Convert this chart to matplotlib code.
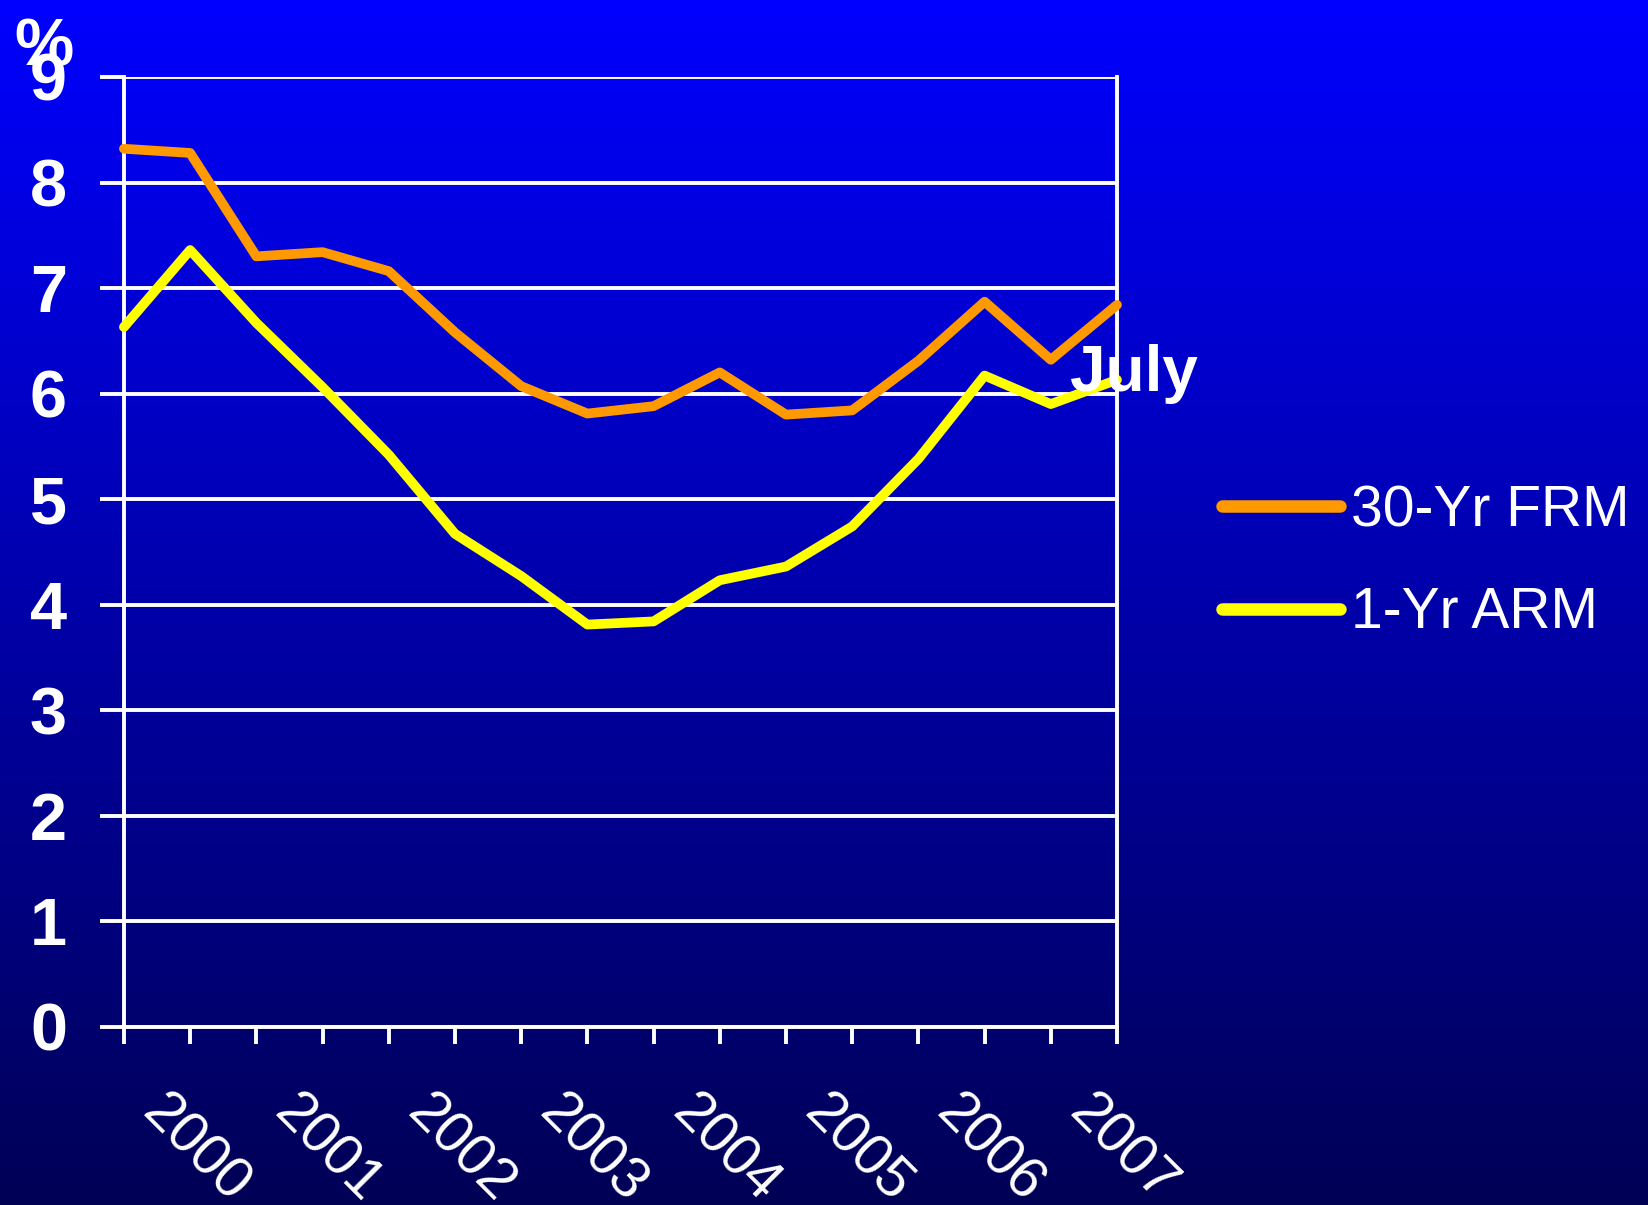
import numpy as np
import matplotlib
matplotlib.use('Agg')
import matplotlib.pyplot as plt
from matplotlib.colors import LinearSegmentedColormap
from matplotlib.transforms import ScaledTranslation

# half-year observations, Jan 2000 .. Jul 2007
years = ['2000', '2001', '2002', '2003', '2004', '2005', '2006', '2007']
frm = [8.32, 8.28, 7.30, 7.34, 7.16, 6.58, 6.07, 5.81,
       5.88, 6.20, 5.80, 5.84, 6.31, 6.87, 6.32, 6.84]
arm = [6.63, 7.36, 6.67, 6.06, 5.42, 4.67, 4.27, 3.81,
       3.84, 4.23, 4.36, 4.74, 5.38, 6.17, 5.90, 6.13]
y_ticks = [0, 1, 2, 3, 4, 5, 6, 7, 8, 9]

plt.rcParams['font.family'] = ['Liberation Sans', 'DejaVu Sans']

x = np.arange(len(frm))
tick_labels = [years[i // 2] if i % 2 == 0 else '' for i in range(len(x))]

fig = plt.figure(figsize=(16.48, 12.05), dpi=100)

# gradient background
bg = fig.add_axes([0, 0, 1, 1])
cmap = LinearSegmentedColormap.from_list('bg', ['#0000FF', '#000055'])
bg.imshow(np.linspace(0, 1, 256).reshape(-1, 1), aspect='auto', cmap=cmap,
          extent=[0, 1, 0, 1])
bg.axis('off')

ax = fig.add_axes([0.0752, 0.1481, 0.6026, 0.788])
ax.patch.set_alpha(0)

l1, = ax.plot(x, frm, color='#FF9900', lw=7, solid_capstyle='round',
              solid_joinstyle='round', clip_on=False, zorder=3, label='30-Yr FRM')
l2, = ax.plot(x, arm, color='#FFFF00', lw=7, solid_capstyle='round',
              solid_joinstyle='round', clip_on=False, zorder=3, label='1-Yr ARM')

ax.set_xlim(0, 15)
ax.set_ylim(0, 9)
ax.set_yticks(y_ticks)
ax.set_yticklabels([str(v) for v in y_ticks], fontsize=48, fontweight='bold', color='white')
ax.set_xticks(x)
ax.set_xticklabels(tick_labels, fontsize=41, color='white', rotation=-45,
                   ha='center', va='center', rotation_mode='anchor')

ax.grid(axis='y', color='white', lw=2.8)
ax.set_axisbelow(True)
for side in ['left', 'right', 'bottom']:
    ax.spines[side].set_color('white')
    ax.spines[side].set_linewidth(2.8)
ax.spines['top'].set_visible(False)

ax.tick_params(axis='y', direction='out', length=17, width=2.8, color='white', pad=24)
ax.tick_params(axis='x', direction='out', length=12, width=2.8, color='white', pad=76)

shift = ScaledTranslation(0.71, 0, fig.dpi_scale_trans)
for lbl in ax.get_xticklabels():
    lbl.set_transform(lbl.get_transform() + shift)

ax.annotate('July', xy=(x[-1], arm[-1]), xytext=(-34, -8), textcoords='offset points',
            ha='left', va='baseline', fontsize=46, fontweight='bold', color='white',
            zorder=5)

fig.text(14 / 1648, 1 - 17 / 1205, '%', ha='left', va='top', fontsize=48,
         fontweight='bold', color='white')

leg = ax.legend(handles=[l1, l2], loc='center left', bbox_to_anchor=(0.7415, 0.5334),
                bbox_transform=fig.transFigure, frameon=False, fontsize=41,
                handlelength=2.07, handletextpad=0.2, labelspacing=0.85,
                borderpad=0, borderaxespad=0)
for t in leg.get_texts():
    t.set_color('white')
for h in leg.get_lines():
    h.set_linewidth(9)
    h.set_solid_capstyle('round')

fig.savefig('out.png', dpi=100)
